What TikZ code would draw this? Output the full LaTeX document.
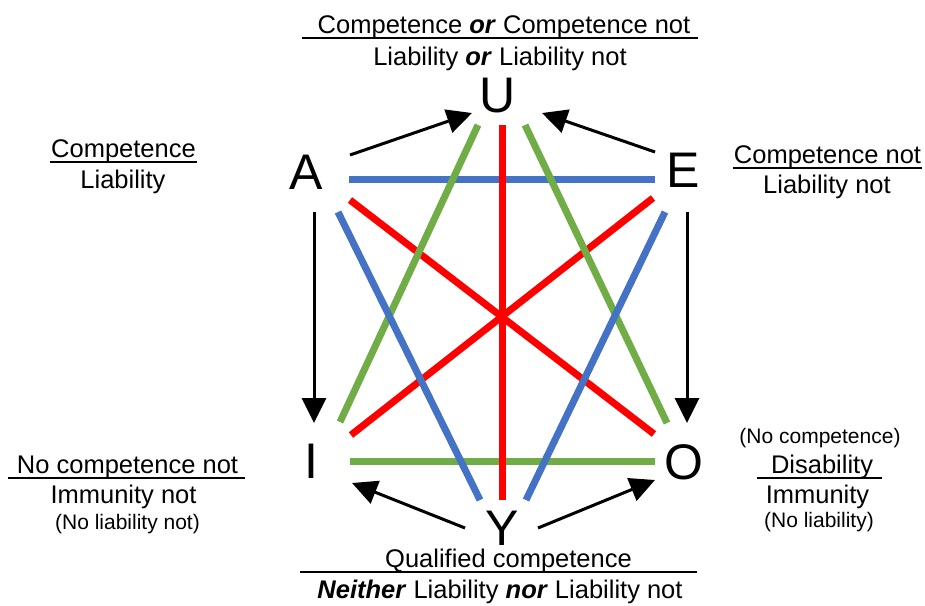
\documentclass[tikz,border=0pt]{standalone}
\usepackage{fontspec}
\setmainfont{Liberation Sans}
\usetikzlibrary{arrows.meta}
\definecolor{lineblue}{HTML}{4472C4}
\definecolor{linegreen}{HTML}{70AD47}
\definecolor{linered}{HTML}{FF0000}

\begin{document}
\begin{tikzpicture}[x=1pt, y=-1pt,
        letter/.style={font=\fontsize{50}{60}\selectfont, inner sep=0pt},
        caption/.style={font=\fontsize{25.5}{30}\selectfont, inner sep=0pt, anchor=base},
        smallcaption/.style={font=\fontsize{21}{25}\selectfont, inner sep=0pt, anchor=base},
        barred/.style={caption, minimum width=#1, text depth=5pt},
        bar/.style={line width=2pt},
        blueline/.style={draw=lineblue, line width=7pt},
        greenline/.style={draw=linegreen, line width=7pt},
        redline/.style={draw=linered, line width=7pt},
        arrowline/.style={line width=3pt, -{Triangle[length=25pt, width=24pt]}},
]
        \useasboundingbox (0,0) rectangle (925,605);

        \node[letter] (cornera) at (306,172) {A};
        \node[letter] (corneru) at (498,96) {U};
        \node[letter] (cornere) at (683,170) {E};
        \node[letter] (corneri) at (311,461) {I};
        \node[letter] (cornero) at (684,462) {O};
        \node[letter] (cornery) at (502,528) {Y};

        \node[barred=396pt] (captionu) at (500,33) {\hspace*{8pt}Competence \textbf{\textit{or}} Competence not};
        \node[caption] (captionul) at (500,65) {Liability \textbf{\textit{or}} Liability not};
        \node[barred=147pt] (captiona) at (123.5,157) {Competence};
        \node[caption] (captional) at (123,188) {Liability};
        \node[barred=189pt] (captione) at (827.5,163) {Competence not};
        \node[caption] (captionel) at (827,193) {Liability not};
        \node[barred=237pt] (captioni) at (126.5,473) {\hspace*{2pt}No competence not};
        \node[caption] (captionil) at (123.5,503) {Immunity not};
        \node[smallcaption] (captionin) at (127.5,529) {(No liability not)};
        \node[smallcaption] (captionon) at (820,443) {(No competence)};
        \node[barred=125pt] (captiono) at (819.5,473) {\hspace*{5pt}Disability};
        \node[caption] (captionol) at (817.5,503) {Immunity};
        \node[smallcaption] (captionoo) at (819,527) {(No liability)};
        \node[barred=397pt] (captiony) at (498.5,567) {\hspace*{20pt}Qualified competence};
        \node[caption] (captionyl) at (500,598) {\textbf{\textit{Neither}} Liability \textbf{\textit{nor}} Liability not};

        \draw[bar] (captionu.south west) -- (captionu.south east);
        \draw[bar] (captiona.south west) -- (captiona.south east);
        \draw[bar] (captione.south west) -- (captione.south east);
        \draw[bar] (captioni.south west) -- (captioni.south east);
        \draw[bar] (captiono.south west) -- (captiono.south east);
        \draw[bar] (captiony.south west) -- (captiony.south east);

        \draw[blueline] ([shift={(43,7)}]cornera.center) -- ([shift={(-28,9)}]cornere.center);
        \draw[greenline] ([shift={(39,0)}]corneri.center) -- ([shift={(-29,-1)}]cornero.center);
        \draw[redline] ([shift={(4,29)}]corneru.center) -- ([shift={(0,-28)}]cornery.center);
        \draw[redline] ([shift={(44,28)}]cornera.center) -- ([shift={(-30,-28)}]cornero.center);
        \draw[redline] ([shift={(-30,28)}]cornere.center) -- ([shift={(40,-26)}]corneri.center);
        \draw[greenline] ([shift={(-20,29)}]corneru.center) -- ([shift={(29,-39)}]corneri.center);
        \draw[greenline] ([shift={(27,29)}]corneru.center) -- ([shift={(-17,-39)}]cornero.center);
        \draw[blueline] ([shift={(32,40)}]cornera.center) -- ([shift={(-22,-28)}]cornery.center);
        \draw[blueline] ([shift={(-18,42)}]cornere.center) -- ([shift={(24,-28)}]cornery.center);

        \draw[arrowline] ([shift={(44,-17)}]cornera.center) -- ([shift={(-26,17)}]corneru.center);
        \draw[arrowline] ([shift={(-28,-18)}]cornere.center) -- ([shift={(44,17)}]corneru.center);
        \draw[arrowline] ([shift={(8,40)}]cornera.center) -- ([shift={(3,-38)}]corneri.center);
        \draw[arrowline] ([shift={(4,42)}]cornere.center) -- ([shift={(3,-39)}]cornero.center);
        \draw[arrowline] ([shift={(-37,0)}]cornery.center) -- ([shift={(41,22)}]corneri.center);
        \draw[arrowline] ([shift={(36,0)}]cornery.center) -- ([shift={(-29,18)}]cornero.center);
\end{tikzpicture}
\end{document}
